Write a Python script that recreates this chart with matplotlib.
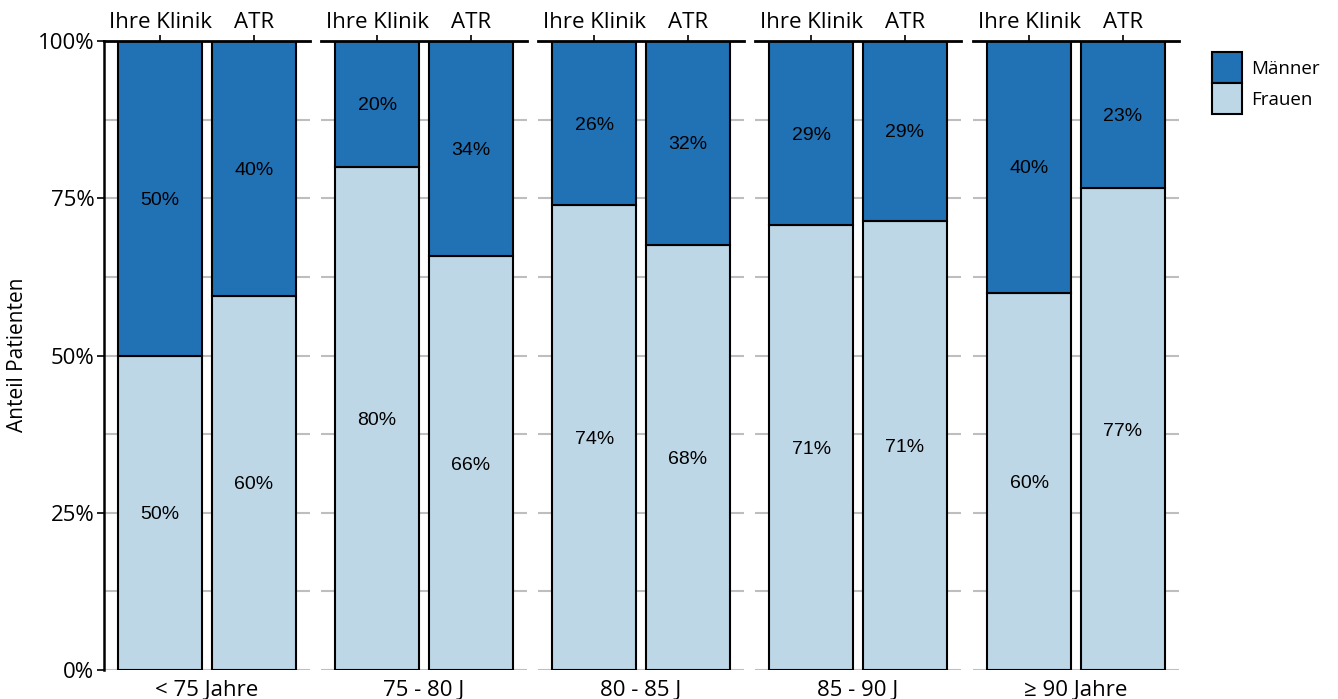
import matplotlib
matplotlib.use("Agg")
import matplotlib.pyplot as plt
from matplotlib.patches import Patch

plt.rcParams["font.family"] = ["Open Sans", "DejaVu Sans"]

age_groups = ["< 75 Jahre", "75 - 80 J", "80 - 85 J", "85 - 90 J", "\u2265 90 Jahre"]
sources = ["Ihre Klinik", "ATR"]

# share of women / men per age group, [Ihre Klinik, ATR]
frauen = [[50.0, 59.5], [80.0, 65.8], [73.9, 67.6], [70.7, 71.4], [60.0, 76.6]]
maenner = [[50.0, 40.5], [20.0, 34.2], [26.1, 32.4], [29.3, 28.6], [40.0, 23.4]]

C_MEN = "#2171B5"
C_WOMEN = "#BDD7E7"
GRID = "#BEBEBE"

W, H = 1338, 699
fig = plt.figure(figsize=(W / 100, H / 100), dpi=100)

top_px, bot_px = 41, 670
panel_w = 206
lefts = [104, 321, 538, 755, 973]

for i, grp in enumerate(age_groups):
    ax = fig.add_axes([lefts[i] / W, 1 - bot_px / H, panel_w / W, (bot_px - top_px) / H])
    x = [0, 1]
    for k in range(9):  # major + minor grid
        ax.axhline(k * 12.5, color=GRID, lw=1.5, zorder=0)
    ax.bar(x, frauen[i], width=0.9, color=C_WOMEN, edgecolor="black", lw=1.5, zorder=2)
    ax.bar(x, maenner[i], width=0.9, bottom=frauen[i], color=C_MEN, edgecolor="black", lw=1.5, zorder=2)
    for j in range(2):
        ax.text(x[j], frauen[i][j] / 2, f"{round(frauen[i][j])}%", ha="center", va="center_baseline",
                fontsize=14, family="Liberation Sans", zorder=3)
        ax.text(x[j], frauen[i][j] + maenner[i][j] / 2, f"{round(maenner[i][j])}%", ha="center",
                va="center_baseline", fontsize=14, family="Liberation Sans", zorder=3)
    ax.set_xlim(-0.6, 1.6)
    ax.set_ylim(0, 100)
    ax.xaxis.tick_top()
    ax.set_xticks(x)
    ax.set_xticklabels(sources, fontsize=16)
    ax.tick_params(axis="x", length=4, width=1.2, pad=2)
    for s in ["bottom", "right", "left"]:
        ax.spines[s].set_visible(False)
    ax.spines["top"].set_linewidth(2)
    if i == 0:
        ax.spines["left"].set_visible(True)
        ax.spines["left"].set_linewidth(1.8)
        ax.set_yticks([0, 25, 50, 75, 100])
        ax.set_yticklabels(["0%", "25%", "50%", "75%", "100%"], fontsize=16)
        ax.tick_params(axis="y", length=5, width=1.2, pad=2)
    else:
        ax.set_yticks([])
    ax.set_facecolor("none")
    fig.text((lefts[i] + panel_w / 2) / W, 1 - 690 / H, grp, ha="center", va="center", fontsize=16)

fig.text(18 / W, 1 - 355 / H, "Anteil Patienten", rotation=90, ha="center", va="center", fontsize=15)

handles = [Patch(facecolor=C_MEN, edgecolor="black", lw=1.5, label="Männer"),
           Patch(facecolor=C_WOMEN, edgecolor="black", lw=1.5, label="Frauen")]
fig.legend(handles=handles, loc="upper left", bbox_to_anchor=(1204 / W, 1 - 45 / H), frameon=False,
           fontsize=13.5, handlelength=1.65, handleheight=2.16, labelspacing=0.0, handletextpad=0.45,
           borderaxespad=0)

fig.savefig("out.png", dpi=100)
